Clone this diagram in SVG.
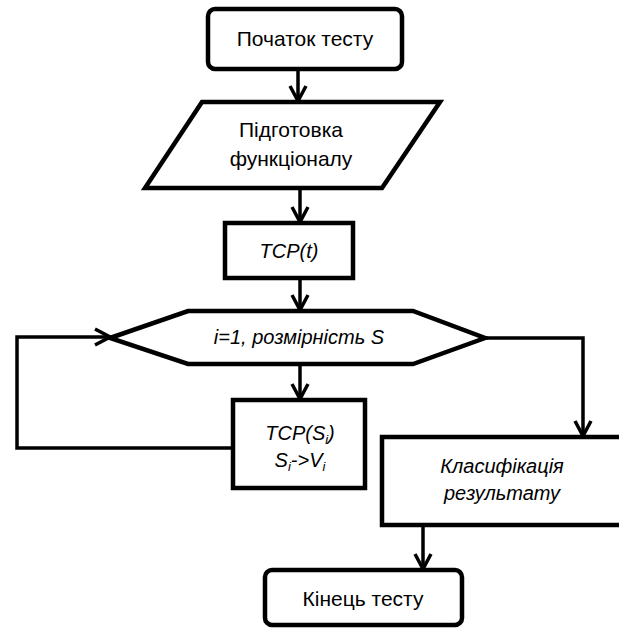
<svg xmlns="http://www.w3.org/2000/svg" width="619" height="628" viewBox="0 0 619 628">
<style>
.box{fill:#fff;stroke:#000;stroke-width:4.5;stroke-linejoin:miter}
.rbox{fill:#fff;stroke:#000;stroke-width:4.5}
.con{fill:none;stroke:#000;stroke-width:3.5;stroke-linejoin:miter}
.t{font-family:"Liberation Sans",Arial,sans-serif;font-size:21px;fill:#000;text-anchor:middle}
.ti{font-family:"Liberation Sans",Arial,sans-serif;font-size:20px;font-style:italic;fill:#000;text-anchor:middle}
.sub{font-size:13px}
</style>
<defs>
<marker id="arr" viewBox="-17 -10 20 20" refX="0" refY="0" markerWidth="20" markerHeight="20" markerUnits="userSpaceOnUse" orient="auto">
<path d="M-15,-8 L0,0 L-15,8" fill="none" stroke="#000" stroke-width="3.5" stroke-linejoin="miter"/>
</marker>
</defs>
<g id="connectors">
<line class="con" x1="298" y1="69" x2="298" y2="101" marker-end="url(#arr)"/>
<line class="con" x1="300" y1="188" x2="300" y2="222" marker-end="url(#arr)"/>
<line class="con" x1="300" y1="278" x2="300" y2="310" marker-end="url(#arr)"/>
<line class="con" x1="300" y1="364" x2="300" y2="399" marker-end="url(#arr)"/>
<polyline class="con" points="233,448 17,448 17,337 110,337" marker-end="url(#arr)"/>
<polyline class="con" points="485,338 583,338 583,436" marker-end="url(#arr)"/>
<line class="con" x1="423" y1="525" x2="423" y2="569" marker-end="url(#arr)"/>
</g>
<g id="start">
<rect class="rbox" x="208" y="9" width="194" height="60" rx="7"/>
<text class="t" x="305" y="46">Початок тесту</text>
</g>
<g id="prep">
<polygon class="box" points="202,102 440,102 382,188 145,188"/>
<text class="t" x="291" y="137">Підготовка</text>
<text class="t" x="291" y="166">функціоналу</text>
</g>
<g id="tcpt">
<rect class="box" x="225" y="223" width="128" height="55"/>
<text class="ti" x="289" y="258">TCP(t)</text>
</g>
<g id="loop">
<polygon class="box" points="110,338 188,311 413,311 485,338 413,364 188,364"/>
<text class="ti" x="299" y="344">i=1, розмірність S</text>
</g>
<g id="tcpsi">
<rect class="box" x="233" y="400" width="132" height="88"/>
<text class="ti" x="300" y="440">TCP(S<tspan class="sub" dy="4">i</tspan><tspan dy="-4">)</tspan></text>
<text class="ti" x="300" y="467">S<tspan class="sub" dy="4">i</tspan><tspan dy="-4">-&gt;V</tspan><tspan class="sub" dy="4">i</tspan></text>
</g>
<g id="classify">
<rect class="box" x="382" y="437" width="245" height="88"/>
<text class="ti" x="502" y="473">Класифікація</text>
<text class="ti" x="502" y="500">результату</text>
</g>
<g id="end">
<rect class="rbox" x="265" y="570" width="197" height="55" rx="7"/>
<text class="t" x="363" y="606">Кінець тесту</text>
</g>
</svg>
